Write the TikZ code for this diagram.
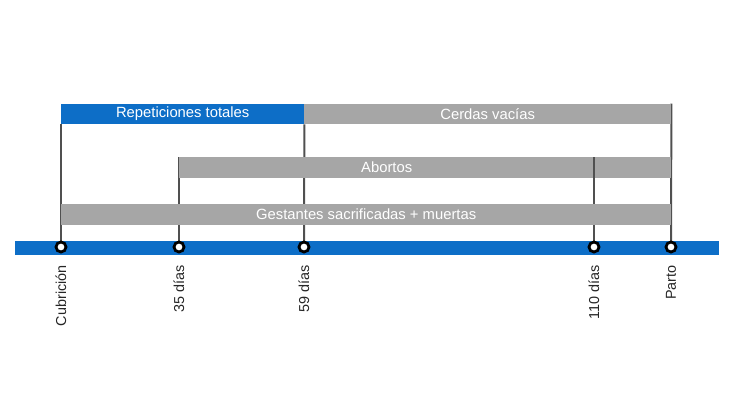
\documentclass[tikz,border=0pt]{standalone}
\usepackage{fontspec}
\setmainfont{Liberation Sans}
\usetikzlibrary{backgrounds}
\definecolor{azul}{RGB}{13,110,199}
\definecolor{gris}{RGB}{166,166,166}
\definecolor{linea}{RGB}{80,80,80}
\begin{document}
\begin{tikzpicture}[x=1pt, y=-1pt,
    barra/.style ={fill=gris, text=white, inner sep=0pt, minimum height=20.5pt,
                   anchor=west, font=\fontsize{14.8}{16}\selectfont},
    hito/.style ={circle, draw=black, fill=white, line width=2.8pt, minimum size=10pt, inner sep=0pt},
    etiqueta/.style ={rotate=90, anchor=east, inner sep=0pt, text=black!85,
                      font=\fontsize{14.4}{16}\selectfont},
    guia/.style ={draw=linea, line width=2pt}]
   \useasboundingbox (0,0) rectangle (734,413);
   \coordinate (p1) at (61,247);
   \coordinate (p2) at (179,247);
   \coordinate (p3) at (304,247);
   \coordinate (p4) at (594,247);
   \coordinate (p5) at (671,247);
   % barras
   \node[barra, fill=azul, minimum width=243pt] (rep) at (61,114)  {Repeticiones totales};
   \node[barra, minimum width=367pt] (cer) at (304,114)  {Cerdas vacías};
   \node[barra, minimum width=415pt] (abo) at (179,167.5)  {Abortos};
   \node[barra, minimum width=77pt] (abo2) at (594,167.5)  {};
   \draw[guia] (p4) -- (p4 |- abo.north);
   \node[barra, minimum width=610pt] (ges) at (61,214.5)  {Gestantes sacrificadas + muertas};
   
   % guias
   \begin{scope}[on background layer]
   \draw[guia] (p1) -- (rep.south west);
   \draw[guia] (p2) -- (abo.north west);
   \draw[guia] (p3) -- (rep.south east);
   \draw[guia] (p5) -- (cer.north east);
   \end{scope}
   
   % eje
   \node[fill=azul, minimum width=704pt, minimum height=14pt, inner sep=0pt] (eje) at (367,248) {};
   \node[hito] (cub) at (p1)  {};
   \node[hito] (d35) at (p2)  {};
   \node[hito] (d59) at (p3)  {};
   \node[hito] (d110) at (p4)  {};
   \node[hito] (par) at (p5)  {};
   
   \node[etiqueta] (tcub) at (61,265)  {Cubrición};
   \node[etiqueta] (td35) at (179,265)  {35 días};
   \node[etiqueta] (td59) at (304,265)  {59 días};
   \node[etiqueta] (td110) at (594,265)  {110 días};
   \node[etiqueta] (tpar) at (671,265)  {Parto};
 \end{tikzpicture}
\end{document}
